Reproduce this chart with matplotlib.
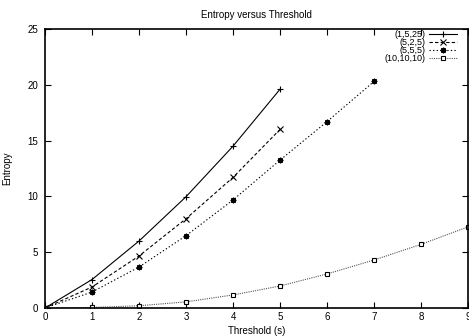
import matplotlib
matplotlib.use("Agg")
import matplotlib.pyplot as plt

# Data
labels = ["(1,5,25)", "(5,2,5)", "(5,5,5)", "(10,10,10)"]
x_125 = [0, 1, 2, 3, 4, 5]
y_125 = [0, 2.55, 6.0, 9.97, 14.5, 19.6]
x_525 = [0, 1, 2, 3, 4, 5]
y_525 = [0, 1.88, 4.66, 8.0, 11.7, 16.0]
x_555 = [0, 1, 2, 3, 4, 5, 6, 7]
y_555 = [0, 1.43, 3.67, 6.48, 9.68, 13.25, 16.7, 20.3]
x_101010 = [0, 1, 2, 3, 4, 5, 6, 7, 8, 9]
y_101010 = [0, 0.05, 0.2, 0.55, 1.17, 1.97, 3.05, 4.3, 5.7, 7.27]

plt.rcParams['font.family'] = ['Liberation Sans', 'DejaVu Sans']

fig = plt.figure(figsize=(4.69, 3.36), dpi=100)
ax = fig.add_axes([45/469, 28/336, (468-45)/469, (308-29)/336])

lw = 0.8
ax.plot(x_125, y_125, color='black', linestyle='-', linewidth=lw,
        marker='+', markersize=4.5, markeredgewidth=0.8, label=labels[0])
ax.plot(x_525, y_525, color='black', linestyle=(0, (3, 2)), linewidth=lw,
        marker='x', markersize=3.8, markeredgewidth=0.8, label=labels[1])
ax.plot(x_555, y_555, color='black', linestyle=(0, (1.2, 2)), linewidth=lw,
        marker=(8, 2, 0), markersize=4, markeredgewidth=0.9, label=labels[2])
ax.plot(x_101010, y_101010, color='#555555', linestyle=(0, (1, 1)), linewidth=lw,
        marker='s', markersize=3.5, markerfacecolor='white', markeredgecolor='black',
        markeredgewidth=0.8, label=labels[3])

ax.set_xlim(0, 9)
ax.set_ylim(0, 25)
ax.set_xticks(range(0, 10))
ax.set_yticks(range(0, 26, 5))
ax.tick_params(axis='both', which='both', direction='in', top=True, right=True,
               length=4, width=0.8, labelsize=7)
ax.tick_params(axis='y', pad=5)
ax.tick_params(axis='x', pad=3)
for s in ax.spines.values():
    s.set_linewidth(1.2)

ax.set_title("Entropy versus Threshold", fontsize=7, pad=8)
ax.set_xlabel("Threshold (s)", fontsize=7, labelpad=3)
ax.set_ylabel("Entropy", fontsize=7, labelpad=11)

leg = ax.legend(loc='upper right', bbox_to_anchor=(0.975, 0.997), markerfirst=False,
                frameon=False, fontsize=6.5, handlelength=3.2, handletextpad=0.35,
                labelspacing=-0.1, borderaxespad=0, borderpad=0)

fig.savefig("out.png", dpi=100)
